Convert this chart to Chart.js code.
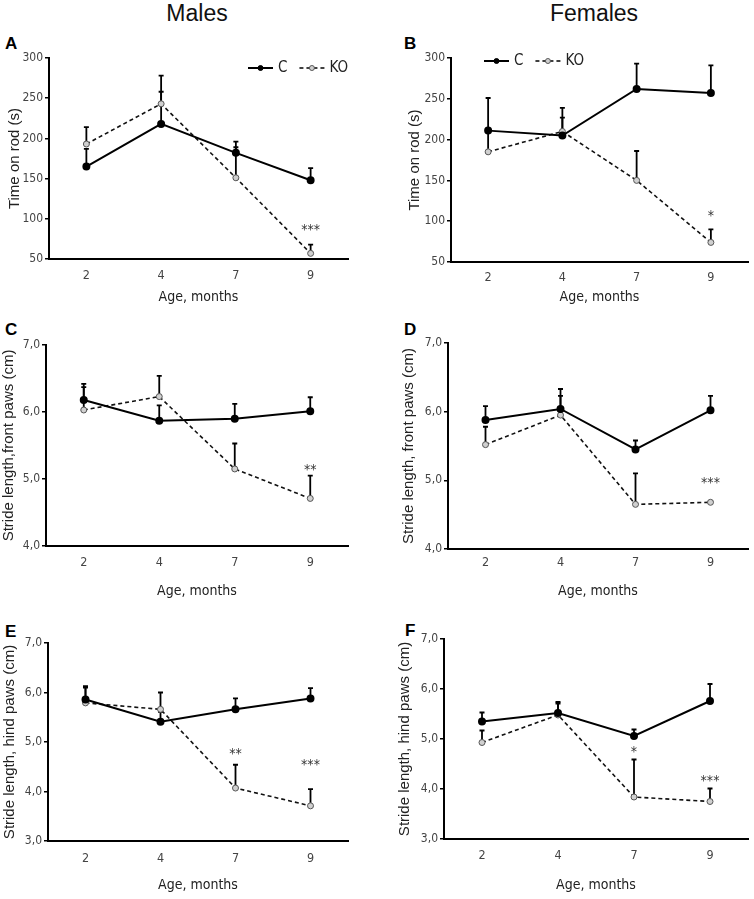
<!DOCTYPE html>
<html>
<head>
<meta charset="utf-8">
<script src="https://cdn.jsdelivr.net/npm/chart.js@4.4.1/dist/chart.umd.min.js"></script>
<style>
  body { margin: 0; background: #fff; width: 754px; height: 899px; position: relative; overflow: hidden;
         font-family: 'Liberation Sans', Arial, sans-serif; }
  .box { position: absolute; }
  .head { position: absolute; font-size: 23px; color: #111; transform: translateX(-50%); line-height: 1; }
  .tag { position: absolute; font-weight: bold; font-size: 17px; color: #000; line-height: 1; }
</style>
</head>
<body>
<div class="head" style="left:197px;top:2px">Males</div>
<div class="head" style="left:594px;top:2px">Females</div>
<div class="tag" style="left:5px;top:35px">A</div>
<div class="tag" style="left:404px;top:35px">B</div>
<div class="tag" style="left:5px;top:321px">C</div>
<div class="tag" style="left:404px;top:321px">D</div>
<div class="tag" style="left:5px;top:623px">E</div>
<div class="tag" style="left:405px;top:622px">F</div>

<div class="box" style="left:0;top:30px"><canvas id="chartA" width="377" height="276"></canvas></div>
<div class="box" style="left:377px;top:30px"><canvas id="chartB" width="377" height="276"></canvas></div>
<div class="box" style="left:0;top:306px"><canvas id="chartC" width="377" height="294"></canvas></div>
<div class="box" style="left:377px;top:306px"><canvas id="chartD" width="377" height="294"></canvas></div>
<div class="box" style="left:0;top:600px"><canvas id="chartE" width="377" height="294"></canvas></div>
<div class="box" style="left:377px;top:600px"><canvas id="chartF" width="377" height="294"></canvas></div>

<script>
// ages on the x axis
var months = ['2', '4', '7', '9'];

// A - rotarod, males
var rodMaleC = [165, 218, 182, 148];
var rodMaleCErr = [22, 40, 14, 15];
var rodMaleKO = [193, 243, 151, 57];
var rodMaleKOErr = [21, 35, 38, 11];
var rodMaleStars = ['', '', '', '***'];
var rodMaleStarAt = [null, null, null, 89];

// B - rotarod, females
var rodFemC = [211, 205, 262, 257];
var rodFemCErr = [40, 34, 31, 34];
var rodFemKO = [185, 210, 150, 74];
var rodFemKOErr = [28, 17, 36, 16];
var rodFemStars = ['', '', '', '*'];
var rodFemStarAt = [null, null, null, 110];

// C - front paws, males
var frontMaleC = [6.18, 5.87, 5.90, 6.01];
var frontMaleCErr = [0.24, 0.23, 0.22, 0.21];
var frontMaleKO = [6.03, 6.23, 5.15, 4.71];
var frontMaleKOErr = [0.34, 0.31, 0.38, 0.34];
var frontMaleStars = ['', '', '', '**'];
var frontMaleStarAt = [null, null, null, 5.18];

// D - front paws, females
var frontFemC = [5.88, 6.04, 5.45, 6.02];
var frontFemCErr = [0.20, 0.29, 0.13, 0.21];
var frontFemKO = [5.52, 5.95, 4.65, 4.68];
var frontFemKOErr = [0.26, 0.28, 0.45, 0.02];
var frontFemStars = ['', '', '', '***'];
var frontFemStarAt = [null, null, null, 5.00];

// E - hind paws, males
var hindMaleC = [5.86, 5.41, 5.66, 5.88];
var hindMaleCErr = [0.27, 0.20, 0.22, 0.21];
var hindMaleKO = [5.79, 5.66, 4.07, 3.71];
var hindMaleKOErr = [0.31, 0.34, 0.47, 0.34];
var hindMaleStars = ['', '', '**', '***'];
var hindMaleStarAt = [null, null, 4.82, 4.59];

// F - hind paws, females
var hindFemC = [5.35, 5.52, 5.06, 5.76];
var hindFemCErr = [0.18, 0.22, 0.13, 0.34];
var hindFemKO = [4.93, 5.48, 3.84, 3.75];
var hindFemKOErr = [0.24, 0.23, 0.75, 0.26];
var hindFemStars = ['', '', '*', '***'];
var hindFemStarAt = [null, null, 4.79, 4.21];

var narrow = "'Liberation Sans Narrow', 'DejaVu Sans Condensed', 'Liberation Sans', sans-serif";
var regular = "'Liberation Sans', Arial, sans-serif";
Chart.defaults.font.family = narrow;
Chart.defaults.color = '#333';

// one-sided (upper) error bars with a small cap
var errorBars = {
    id: 'errorBars',
    beforeDatasetsDraw: function (chart) {
        var ctx = chart.ctx, y = chart.scales.y;
        chart.data.datasets.forEach(function (ds, i) {
            chart.getDatasetMeta(i).data.forEach(function (pt, j) {
                var top = y.getPixelForValue(ds.data[j] + ds.errors[j]);
                ctx.save();
                ctx.strokeStyle = '#000';
                ctx.lineWidth = 1.8;
                ctx.beginPath();
                ctx.moveTo(pt.x, pt.y);
                ctx.lineTo(pt.x, top);
                ctx.moveTo(pt.x - 2.5, top);
                ctx.lineTo(pt.x + 2.5, top);
                ctx.stroke();
                ctx.restore();
            });
        });
    }
};

// significance asterisks
var stars = {
    id: 'stars',
    afterDatasetsDraw: function (chart, args, opts) {
        var ctx = chart.ctx, x = chart.scales.x, y = chart.scales.y;
        ctx.save();
        ctx.fillStyle = '#333';
        ctx.font = '14px ' + narrow;
        ctx.textAlign = 'center';
        ctx.textBaseline = 'middle';
        opts.marks.forEach(function (m, j) {
            if (!m) return;
            ctx.fillText(m, x.getPixelForValue(j), y.getPixelForValue(opts.at[j]) + 3);
        });
        ctx.restore();
    }
};

// inline key: line sample with marker, then label
var keyLine = {
    id: 'keyLine',
    afterDraw: function (chart, args, opts) {
        if (!opts.show) return;
        var ctx = chart.ctx, a = chart.chartArea;
        var cx = a.left + opts.dx, cy = a.top + opts.dy;
        ctx.save();
        chart.data.datasets.forEach(function (ds) {
            ctx.strokeStyle = '#000';
            ctx.lineWidth = ds.borderWidth;
            ctx.setLineDash(ds.borderDash || []);
            ctx.beginPath();
            ctx.moveTo(cx, cy);
            ctx.lineTo(cx + 25, cy);
            ctx.stroke();
            ctx.setLineDash([]);
            ctx.beginPath();
            ctx.arc(cx + 12.5, cy, 2.5, 0, Math.PI * 2);
            ctx.fillStyle = ds.pointBackgroundColor;
            ctx.fill();
            ctx.lineWidth = 1;
            ctx.strokeStyle = ds.pointBorderColor;
            ctx.stroke();
            ctx.fillStyle = '#222';
            ctx.font = '15px ' + narrow;
            ctx.textBaseline = 'middle';
            ctx.fillText(ds.label, cx + 30, cy);
            cx += 30 + ctx.measureText(ds.label).width + 12;
        });
        ctx.restore();
    }
};

function panel(p) {
    var cv = document.getElementById(p.id);
    var W = cv.width, H = cv.height;
    return new Chart(cv.getContext('2d'), {
        type: 'line',
        data: {
            labels: months,
            datasets: [{
                label: 'C',
                data: p.c,
                errors: p.cErr,
                borderColor: '#000',
                borderWidth: 2,
                pointRadius: 3,
                pointBackgroundColor: '#000',
                pointBorderColor: '#000',
                tension: 0
            }, {
                label: 'KO',
                data: p.ko,
                errors: p.koErr,
                borderColor: '#111',
                borderWidth: 1.6,
                borderDash: [4, 3],
                pointRadius: 3,
                pointBackgroundColor: '#d0d0d0',
                pointBorderColor: '#555',
                pointBorderWidth: 1,
                tension: 0
            }]
        },
        options: {
            responsive: false,
            animation: false,
            layout: {
                padding: { left: 0, top: p.area.t, right: W - p.area.r, bottom: 0 }
            },
            plugins: {
                legend: { display: false },
                tooltip: { enabled: false },
                stars: { marks: p.stars, at: p.starAt },
                keyLine: p.key || { show: false }
            },
            scales: {
                x: {
                    offset: true,
                    afterFit: function (s) { s.height = H - p.area.b; },
                    grid: { display: false, drawTicks: false },
                    border: { color: '#000', width: 2 },
                    ticks: { padding: p.xPad, font: { size: 12.5 }, color: '#444' },
                    title: { display: true, text: 'Age, months', color: '#222',
                             font: { size: 14 }, padding: { top: 0, bottom: 0 } }
                },
                y: {
                    min: p.min, max: p.max,
                    afterFit: function (s) { s.width = p.area.l; },
                    grid: { drawOnChartArea: false, drawTicks: true, tickLength: 4, color: '#000', lineWidth: 1.5 },
                    border: { color: '#000', width: 2 },
                    ticks: {
                        stepSize: p.step, padding: 2, font: { size: 12 }, color: '#444',
                        callback: p.fmt
                    },
                    title: { display: true, text: p.yTitle, color: '#222',
                             font: { size: 15, family: regular }, padding: { top: p.titlePad, bottom: 0 } }
                }
            }
        },
        plugins: [errorBars, stars, keyLine]
    });
}

function comma(v) { return v.toFixed(1).replace('.', ','); }
function plain(v) { return String(v); }

document.addEventListener('DOMContentLoaded', function () {
    panel({ id: 'chartA', c: rodMaleC, cErr: rodMaleCErr, ko: rodMaleKO, koErr: rodMaleKOErr,
            stars: rodMaleStars, starAt: rodMaleStarAt, min: 50, max: 300, step: 50, fmt: plain,
            yTitle: 'Time on rod (s)', titlePad: 6, xPad: 9,
            area: { l: 49, r: 348, t: 28, b: 229 }, key: { show: true, dx: 199, dy: 10 } });
    panel({ id: 'chartB', c: rodFemC, cErr: rodFemCErr, ko: rodFemKO, koErr: rodFemKOErr,
            stars: rodFemStars, starAt: rodFemStarAt, min: 50, max: 300, step: 50, fmt: plain,
            yTitle: 'Time on rod (s)', titlePad: 29, xPad: 8,
            area: { l: 74, r: 372, t: 28, b: 232 }, key: { show: true, dx: 33, dy: 3 } });
    panel({ id: 'chartC', c: frontMaleC, cErr: frontMaleCErr, ko: frontMaleKO, koErr: frontMaleKOErr,
            stars: frontMaleStars, starAt: frontMaleStarAt, min: 4, max: 7, step: 1, fmt: comma,
            yTitle: 'Stride length,front paws (cm)', titlePad: 0, xPad: 9,
            area: { l: 46, r: 348, t: 39, b: 240 } });
    panel({ id: 'chartD', c: frontFemC, cErr: frontFemCErr, ko: frontFemKO, koErr: frontFemKOErr,
            stars: frontFemStars, starAt: frontFemStarAt, min: 4, max: 7, step: 1, fmt: comma,
            yTitle: 'Stride length, front paws (cm)', titlePad: 23, xPad: 6,
            area: { l: 71, r: 372, t: 37, b: 243 } });
    panel({ id: 'chartE', c: hindMaleC, cErr: hindMaleCErr, ko: hindMaleKO, koErr: hindMaleKOErr,
            stars: hindMaleStars, starAt: hindMaleStarAt, min: 3, max: 7, step: 1, fmt: comma,
            yTitle: 'Stride length, hind paws (cm)', titlePad: 1, xPad: 10,
            area: { l: 48, r: 348, t: 43, b: 241 } });
    panel({ id: 'chartF', c: hindFemC, cErr: hindFemCErr, ko: hindFemKO, koErr: hindFemKOErr,
            stars: hindFemStars, starAt: hindFemStarAt, min: 3, max: 7, step: 1, fmt: comma,
            yTitle: 'Stride length, hind paws (cm)', titlePad: 19, xPad: 9,
            area: { l: 67, r: 372, t: 39, b: 239 } });
});
</script>
</body>
</html>
